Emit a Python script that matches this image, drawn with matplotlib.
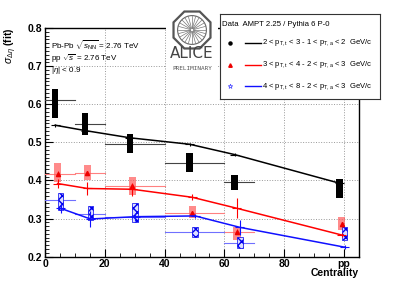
import numpy as np
import matplotlib
matplotlib.use('Agg')
import matplotlib.pyplot as plt
from matplotlib.patches import Rectangle, RegularPolygon, Circle

plt.rcParams['font.family'] = ['Liberation Sans', 'DejaVu Sans']
plt.rcParams['mathtext.fontset'] = 'custom'
plt.rcParams['mathtext.rm'] = 'Liberation Sans'
plt.rcParams['mathtext.it'] = 'Liberation Sans:italic'
plt.rcParams['mathtext.bf'] = 'Liberation Sans:bold'
plt.rcParams['hatch.linewidth'] = 1.0

# centrality bins (pp drawn at 100)
centrality = [5, 15, 30, 50, 65, 100]
cent_lo = [0, 10, 20, 40, 60, None]
cent_hi = [10, 20, 40, 60, 70, None]

# data: value, systematic box low/high
black_val = [0.611, 0.548, 0.497, 0.445, 0.395, 0.378]
black_lo = [0.563, 0.519, 0.471, 0.422, 0.375, 0.353]
black_hi = [0.640, 0.576, 0.522, 0.472, 0.414, 0.403]

red_val = [0.418, 0.420, 0.385, 0.315, 0.266, 0.285]
red_lo = [0.397, 0.400, 0.362, 0.301, 0.244, 0.270]
red_hi = [0.445, 0.440, 0.408, 0.333, 0.278, 0.304]

blue_val = [0.349, 0.312, 0.305, 0.264, 0.235, 0.262]
blue_lo = [0.322, 0.296, 0.290, 0.252, 0.223, 0.245]
blue_hi = [0.367, 0.333, 0.340, 0.278, 0.252, 0.278]

# AMPT model
ampt_black = [0.545, 0.531, 0.512, 0.495, 0.468, 0.393]
ampt_black_err = [0.004, 0.004, 0.004, 0.004, 0.004, 0.004]
ampt_red = [0.392, 0.379, 0.377, 0.356, 0.327, 0.257]
ampt_red_err = [0.012, 0.017, 0.017, 0.008, 0.026, 0.005]
ampt_blue = [0.327, 0.299, 0.305, 0.307, 0.277, 0.225]
ampt_blue_err = [0.013, 0.020, 0.010, 0.006, 0.020, 0.005]

legend_labels = [r'2 < p$_{\mathrm{T,t}}$ < 3 - 1 < p$_{\mathrm{T,a}}$ < 2  GeV/c',
                 r'3 < p$_{\mathrm{T,t}}$ < 4 - 2 < p$_{\mathrm{T,a}}$ < 3  GeV/c',
                 r'4 < p$_{\mathrm{T,t}}$ < 8 - 2 < p$_{\mathrm{T,a}}$ < 3  GeV/c']

fig = plt.figure(figsize=(3.99, 2.86), dpi=100)
ax = fig.add_axes([0.1128, 0.1024, 0.7869, 0.7996])


def draw_series(x_shift, val, lo, hi, ampt, ampt_err, col, hcol, box_w, box_style, marker):
    x = np.array(centrality, dtype=float) + x_shift
    for i in range(len(x)):
        if cent_lo[i] is not None:
            ax.plot([cent_lo[i], cent_hi[i]], [val[i], val[i]], color=hcol, lw=0.8, zorder=3)
        ax.add_patch(Rectangle((x[i] - box_w / 2, lo[i]), box_w, hi[i] - lo[i], zorder=4, **box_style))
    if marker is not None:
        ax.errorbar(x, val, yerr=0.006, fmt='none', ecolor=marker['color'], elinewidth=0.7, zorder=5)
        ax.plot(x, val, ls='none', zorder=5, **marker)
    ax.plot(x, ampt, color=col, lw=1.1, zorder=6)
    ax.errorbar(x, ampt, yerr=ampt_err, xerr=1.5, fmt='none', ecolor=col, elinewidth=0.8, zorder=6)


draw_series(-1.6, black_val, black_lo, black_hi, ampt_black, ampt_black_err, 'black', '#444444', 2.2,
            dict(facecolor='black', edgecolor='black', lw=0), None)
draw_series(-0.8, red_val, red_lo, red_hi, ampt_red, ampt_red_err, '#ff0000', '#ff8080', 2.4,
            dict(facecolor='#ff5a5a', edgecolor='none', alpha=0.7, lw=0),
            dict(marker='^', color='#ee0000', ms=3))
draw_series(0.2, blue_val, blue_lo, blue_hi, ampt_blue, ampt_blue_err, '#1010ff', '#7070ff', 1.9,
            dict(facecolor='#dde0ff', edgecolor='#0000ee', hatch='xxxx', lw=0.5), None)

ax.set_xlim(0, 105)
ax.set_ylim(0.2, 0.8)
ax.set_xticks([0, 20, 40, 60, 80, 100])
ax.set_xticklabels(['0', '20', '40', '60', '80', 'pp'])
ax.set_xticks(np.arange(0, 105, 5), minor=True)
ax.set_yticks([0.2, 0.3, 0.4, 0.5, 0.6, 0.7, 0.8])
ax.set_yticks(np.arange(0.2, 0.8, 0.01), minor=True)
ax.tick_params(direction='in', which='major', length=6, width=0.8, labelsize=7.5, pad=2)
ax.tick_params(direction='in', which='minor', length=3, width=0.6)
for lab in ax.get_xticklabels() + ax.get_yticklabels():
    lab.set_fontweight('bold')
ax.grid(True, which='major', ls=':', color='#999999', lw=0.7)
for s in ax.spines.values():
    s.set_linewidth(1.0)

fig.text(0.90, 0.028, 'Centrality', ha='right', va='bottom', fontsize=7.5, fontweight='bold')
fig.text(0.027, 0.905, r'$\sigma_{\Delta\eta}$ (fit)', rotation=90, ha='center', va='top',
         fontsize=7.5, fontweight='bold')

ax.text(0.02, 0.955, r'Pb-Pb $\sqrt{s_{\mathrm{NN}}}$ = 2.76 TeV', transform=ax.transAxes,
        fontsize=5.8, va='top')
ax.text(0.02, 0.895, r'pp $\sqrt{s}$ = 2.76 TeV', transform=ax.transAxes, fontsize=5.8, va='top')
ax.text(0.02, 0.84, r'|$\eta$| < 0.9', transform=ax.transAxes, fontsize=5.8, va='top')

# ALICE logo
lax = fig.add_axes([166 / 399, (286 - 76) / 286, 52 / 399, 72 / 286])
lax.set_xlim(-1.3, 1.3)
lax.set_ylim(-2.3, 1.3)
lax.set_aspect('equal')
lax.axis('off')
lax.add_patch(Rectangle((-1.3, -2.3), 2.6, 3.6, facecolor='white', edgecolor='none'))
lax.add_patch(RegularPolygon((0, 0), 8, radius=1.0, orientation=np.pi / 8,
                             facecolor='none', edgecolor='#555555', lw=1.6))
lax.add_patch(Circle((0, 0), 0.72, facecolor='none', edgecolor='#666666', lw=0.8))
for a in np.linspace(0, 2 * np.pi, 24, endpoint=False):
    lax.plot([0.08 * np.cos(a), 0.7 * np.cos(a)], [0.08 * np.sin(a), 0.7 * np.sin(a)],
             color='#777777', lw=0.5)
lax.text(0, -1.2, 'ALICE', ha='center', va='center', fontsize=11, color='#444444',
         family='DejaVu Sans')
lax.text(0, -1.95, 'PRELIMINARY', ha='center', va='center', fontsize=4.3, color='#555555',
         family='DejaVu Sans Mono')

# legend box
gax = fig.add_axes([220 / 399, (286 - 99) / 286, 160 / 399, 85 / 286])
gax.set_xlim(0, 1)
gax.set_ylim(0, 1)
gax.set_xticks([])
gax.set_yticks([])
gax.set_facecolor('white')
for s in gax.spines.values():
    s.set_linewidth(0.8)
    s.set_color('#333333')
gax.text(0.015, 0.88, 'Data  AMPT 2.25 / Pythia 6 P-0', fontsize=5.6, va='center')
leg_cols = ['black', '#ff0000', '#1010ff']
leg_marks = [dict(marker='o', color='black', ms=2.2),
             dict(marker='^', color='#ee0000', ms=2.5),
             dict(marker='*', color='#4040ff', ms=3.5, mfc='none', mew=0.5)]
for i in range(3):
    yy = 0.66 - i * 0.255
    gax.plot([0.065], [yy], ls='none', **leg_marks[i])
    gax.plot([0.155, 0.255], [yy, yy], color=leg_cols[i], lw=1.0)
    gax.text(0.26, yy, legend_labels[i], fontsize=5.5, va='center')

plt.savefig('out.png', dpi=100)
